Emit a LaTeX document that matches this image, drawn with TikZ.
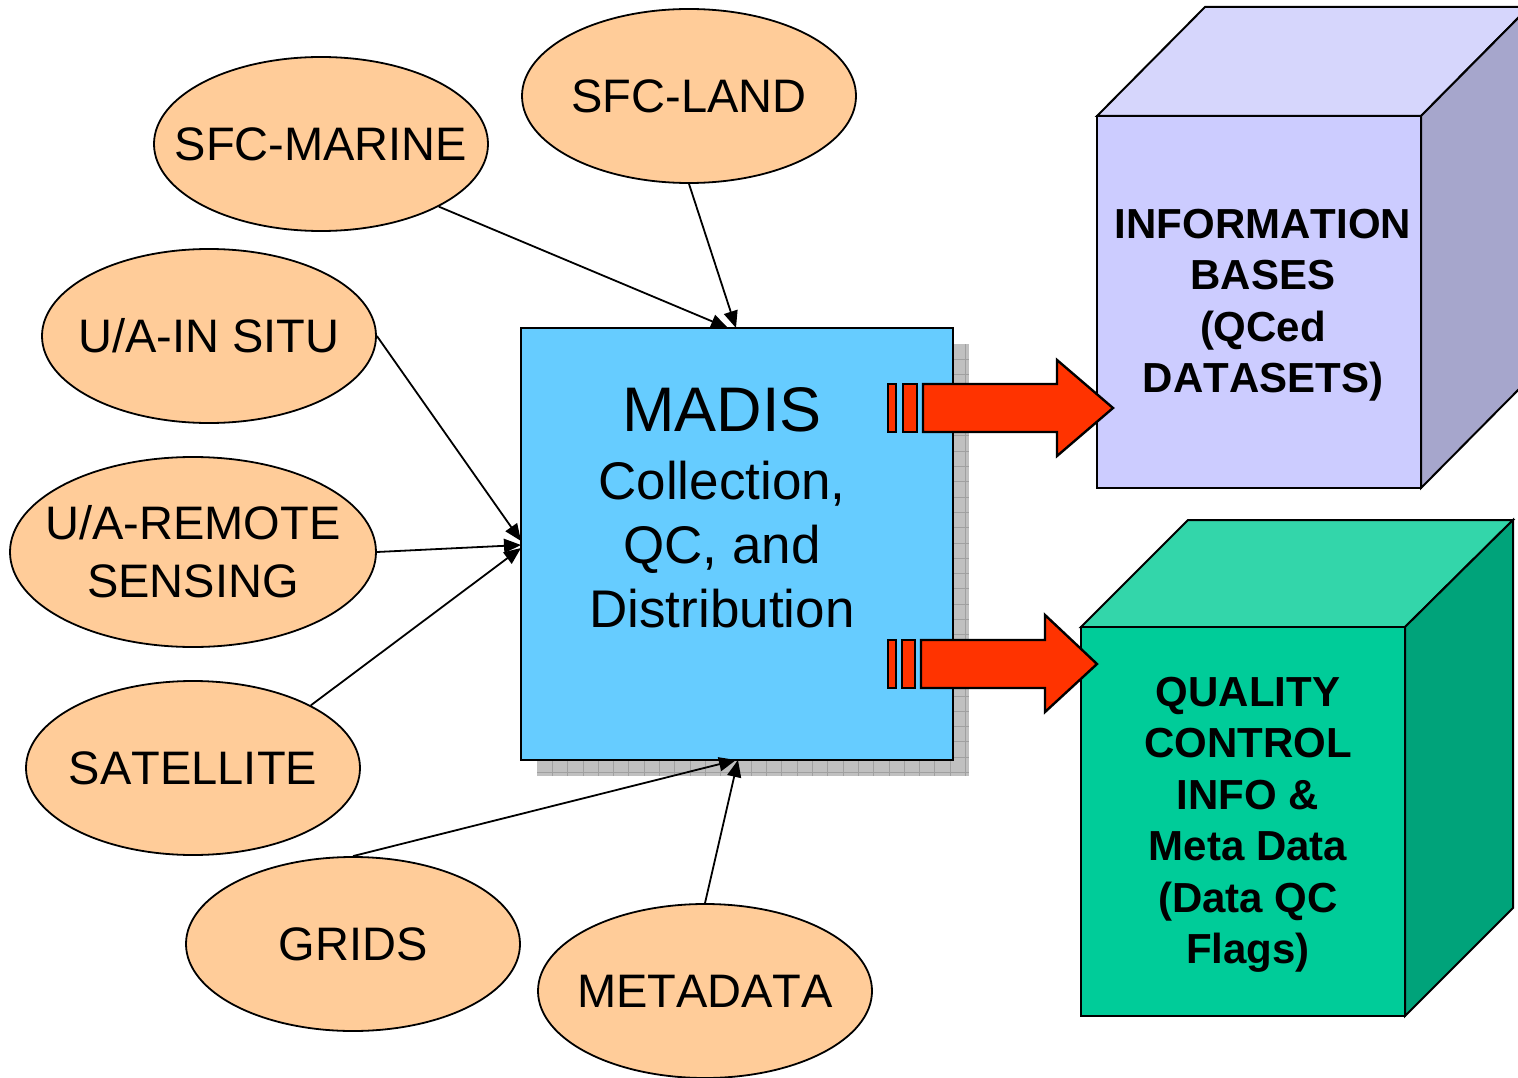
\documentclass[tikz,border=0pt]{standalone}
\usepackage{fontspec}
\setmainfont{Liberation Sans}[Kerning=Off]
\usetikzlibrary{arrows.meta,shapes.geometric}
\definecolor{orangeF}{HTML}{FFCC99}
\definecolor{madisF}{HTML}{66CCFF}
\definecolor{shadowF}{HTML}{C0C0C0}
\definecolor{gridF}{HTML}{A0A0A0}
\definecolor{infoFront}{HTML}{CCCCFF}
\definecolor{infoTop}{HTML}{D6D6FC}
\definecolor{infoSide}{HTML}{A6A6CC}
\definecolor{qcFront}{HTML}{00CC99}
\definecolor{qcTop}{HTML}{33D6AA}
\definecolor{qcSide}{HTML}{00A37A}
\definecolor{redF}{HTML}{FF3300}
\newcommand{\ellText}[1]{\makebox[0pt]{\raisebox{-5pt}[\height][\depth]{\begin{tabular}{@{}c@{}}#1\end{tabular}}}}
\begin{document}
\begin{tikzpicture}[x=1pt,y=-1pt,
  ell/.style={ellipse, draw=black, line width=1.8pt, fill=orangeF,
    minimum width=334pt, minimum height=174pt, inner sep=0pt,
    font=\fontsize{47}{58}\selectfont},
  conn/.style={line width=1.8pt, -{Triangle[length=17pt,width=14pt]}},
  cubeedge/.style={draw=black, line width=2pt, line join=miter},
  redarrow/.style={fill=redF, draw=black, line width=2.4pt, line join=miter},
  cubetext/.style={font=\fontsize{42}{51.5}\selectfont\bfseries, align=center, inner sep=0pt}]
\useasboundingbox (0,0) rectangle (1518,1078);

% shadow of MADIS box
\fill[shadowF] (537,344) rectangle (969,776);
\foreach \x in {552.3,567.6,582.9,598.2,613.5,628.8,644.1,659.4,674.7,690,705.3,720.6,735.9,751.2,766.5,781.8,797.1,812.4,827.7,843,858.3,873.6,888.9,904.2,919.5,934.8,950.1,965.4}
  \draw[gridF, line width=0.8pt] (\x,344) -- (\x,776);
\foreach \y in {359.3,374.6,389.9,405.2,420.5,435.8,451.1,466.4,481.7,497,512.3,527.6,542.9,558.2,573.5,588.8,604.1,619.4,634.7,650,665.3,680.6,695.9,711.2,726.5,741.8,757.1,772.4}
  \draw[gridF, line width=0.8pt] (537,\y) -- (969,\y);

% MADIS box
\node[draw=black, line width=2.2pt, fill=madisF, minimum width=432pt, minimum height=432pt, inner sep=0pt] (madis) at (737,544) {};
\node[font=\fontsize{63}{70}\selectfont, inner sep=0pt] (madisT) at (722,410) {MADIS};
\node[font=\fontsize{53}{64}\selectfont, align=center, inner sep=0pt] (madisS) at (722,545) {Collection,\\QC, and\\Distribution};

% source ellipses
\node[ell] (land) at (689,96) {\ellText{SFC-LAND}};
\node[ell] (marine) at (321,144) {\ellText{SFC-MARINE}};
\node[ell] (insitu) at (209,336) {\ellText{U/A-IN SITU}};
\node[ell, minimum width=366pt, minimum height=190pt] (remote) at (193,552) {\ellText{U/A-REMOTE\\SENSING}};
\node[ell] (sat) at (193,768) {\ellText{SATELLITE}};
\node[ell] (grids) at (353,944) {\ellText{GRIDS}};
\node[ell] (meta) at (705,991) {\ellText{METADATA}};

% arrow targets on MADIS border
\coordinate (tMarine) at (728,328);
\coordinate (tLand) at (736,328);
\coordinate (tInsitu) at (521,541);
\coordinate (tRemote) at (521,545);
\coordinate (tSat) at (521,548);
\coordinate (tGrids) at (736,760);
\coordinate (tMeta) at (738,760);

\draw[conn] (marine.-28) -- (tMarine);
\draw[conn] (land.south) -- (tLand);
\draw[conn] (insitu.east) -- (tInsitu);
\draw[conn] (remote.east) -- (tRemote);
\draw[conn] (sat.28) -- (tSat);
\draw[conn] (grids.north) -- (tGrids);
\draw[conn] (meta.north) -- (tMeta);

% information cube
\begin{scope}
\clip (0,0) rectangle (1518,1078);
\filldraw[cubeedge, fill=infoTop] (1097,116) -- (1205,7) -- (1529,7) -- (1421,116) -- cycle;
\filldraw[cubeedge, fill=infoSide] (1421,116) -- (1529,7) -- (1529,379) -- (1421,488) -- cycle;
\filldraw[cubeedge, fill=infoFront] (1097,116) rectangle (1421,488);
\end{scope}
\node[cubetext] (infoT) at (1263,305) {INFORMATION\\BASES\\(QCed\\DATASETS)};

% QC cube
\filldraw[cubeedge, fill=qcTop] (1081,627) -- (1188,520) -- (1513,520) -- (1405,627) -- cycle;
\filldraw[cubeedge, fill=qcSide] (1405,627) -- (1513,520) -- (1513,908) -- (1405,1016) -- cycle;
\filldraw[cubeedge, fill=qcFront] (1081,627) rectangle (1405,1016);
\node[cubetext] (qcT) at (1248,825) {QUALITY\\CONTROL\\INFO \&\\Meta Data\\(Data QC\\Flags)};

% red block arrows
\filldraw[redarrow] (888,384) rectangle (896,432);
\filldraw[redarrow] (903,384) rectangle (917,432);
\filldraw[redarrow] (923,384) -- (1057,384) -- (1057,360) -- (1113,408) -- (1057,456) -- (1057,432) -- (923,432) -- cycle;

\filldraw[redarrow] (888,640) rectangle (896,688);
\filldraw[redarrow] (902,640) rectangle (915,688);
\filldraw[redarrow] (921,640) -- (1045,640) -- (1045,615) -- (1097,664) -- (1045,712) -- (1045,688) -- (921,688) -- cycle;
\end{tikzpicture}
\end{document}
